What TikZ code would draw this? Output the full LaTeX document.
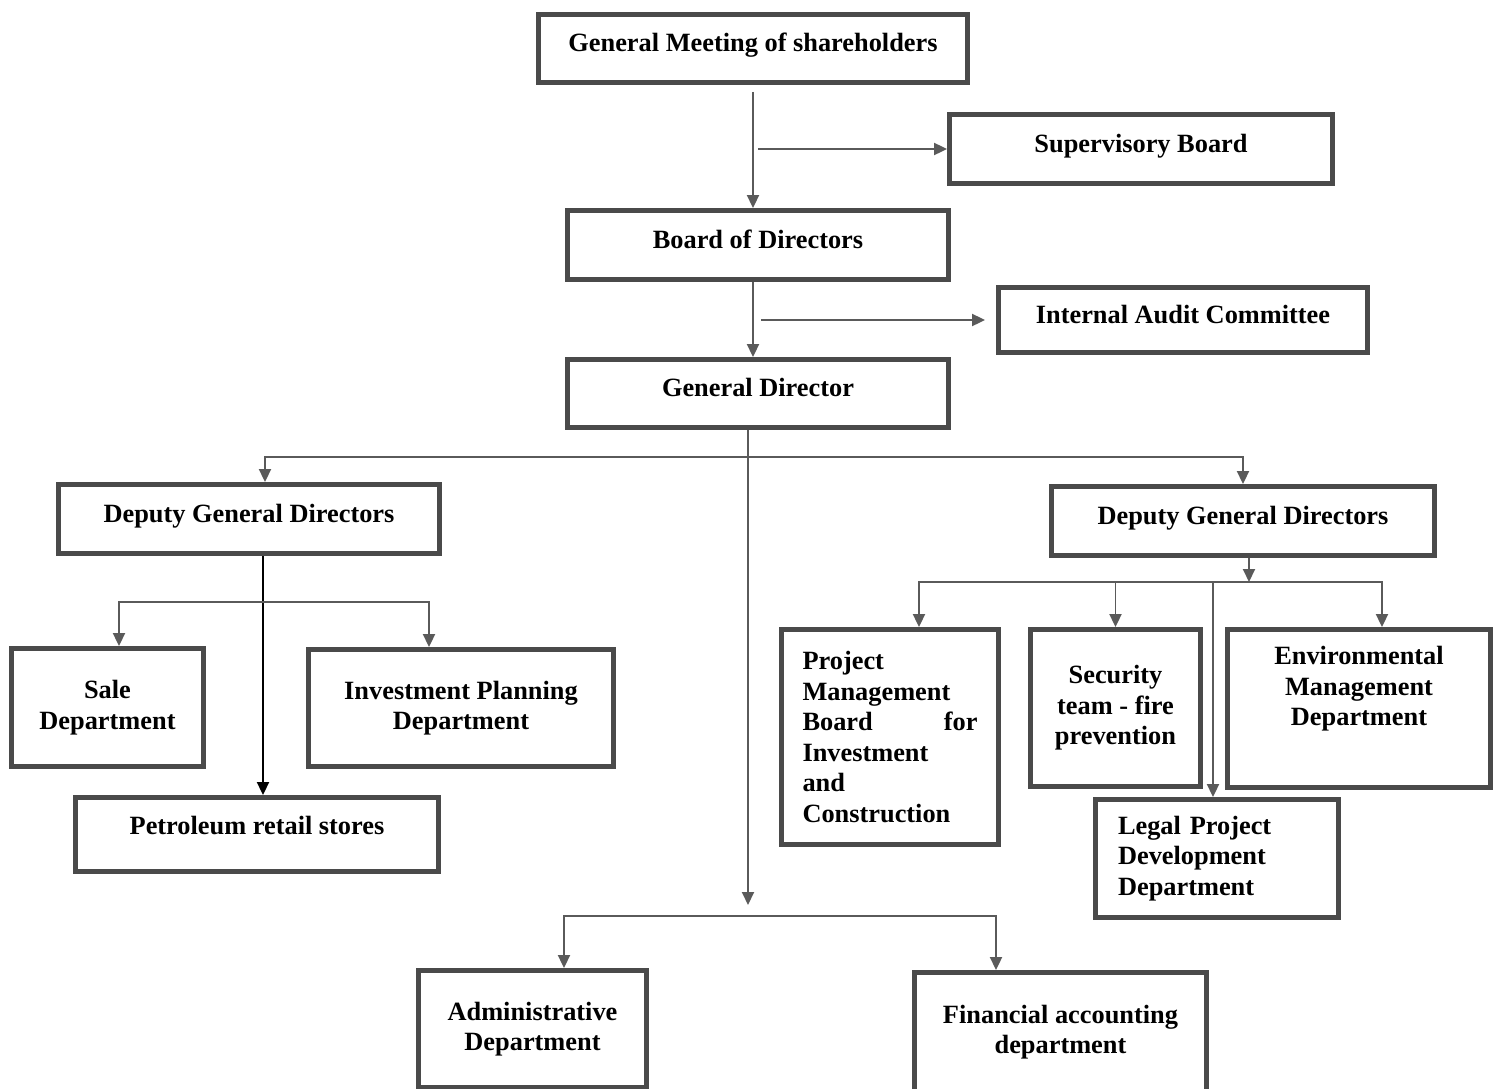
\documentclass[tikz,border=0pt]{standalone}
\usepackage{fontspec}
\setmainfont{Liberation Serif}
\usepackage{tikz}
\usetikzlibrary{arrows.meta}
\definecolor{boxgray}{HTML}{4A4A4A}
\definecolor{linegray}{HTML}{5A5A5A}
\tikzset{
	boxstyle/.style={rectangle,draw=boxgray,line width=2.8pt,fill=white,inner sep=2pt,font=\bfseries\fontsize{15}{17.4}\selectfont},
	onelinestyle/.style={boxstyle,text height=0.4cm,text depth=0.28cm},
	linestyle/.style={draw=linegray,line width=1.1pt},
	arrowstyle/.style={linestyle,-{Triangle[length=0.26cm,width=0.24cm]}}
}

\begin{document}
\begin{tikzpicture}[x=0.02cm,y=-0.02cm]
		\useasboundingbox (0,0) rectangle (1499,1089);
		\node[onelinestyle,minimum width=8.58cm,minimum height=1.36cm] (gm) at (753,48.5) {General Meeting of shareholders};
		\node[onelinestyle,minimum width=7.66cm,minimum height=1.38cm] (sb) at (1141,149) {Supervisory Board};
		\node[onelinestyle,minimum width=7.62cm,minimum height=1.38cm] (bod) at (758,245) {Board of Directors};
		\node[onelinestyle,minimum width=7.38cm,minimum height=1.30cm] (iac) at (1183,320) {Internal Audit Committee};
		\node[onelinestyle,minimum width=7.62cm,minimum height=1.36cm] (gd) at (758,393.5) {General Director};
		\node[onelinestyle,minimum width=7.62cm,minimum height=1.38cm] (dgdl) at (249,519) {Deputy General Directors};
		\node[onelinestyle,minimum width=7.66cm,minimum height=1.38cm] (dgdr) at (1243,521) {Deputy General Directors};
		\node[boxstyle,minimum width=3.84cm,minimum height=2.36cm,align=center] (sale) at (107.5,707.5) {Sale\\Department};
		\node[boxstyle,minimum width=6.10cm,minimum height=2.34cm,align=center] (ipd) at (461,708) {Investment Planning\\Department};
		\node[onelinestyle,text depth=0.4cm,minimum width=7.26cm,minimum height=1.48cm] (prs) at (257,834.5) {Petroleum retail stores};
		\node[boxstyle,minimum width=4.34cm,minimum height=4.30cm,text width=3.5cm,align=left] (pmb) at (890,737) {Project\\Management\\Board\hfill for\\Investment\\and\\Construction};
		\node[boxstyle,minimum width=3.40cm,minimum height=3.14cm,align=center] (sec) at (1115.5,708) {Security\\team - fire\\prevention};
		\node[boxstyle,minimum width=5.26cm,minimum height=3.16cm,align=center] (env) at (1359,708.5) {Environmental\\Management\\Department\rule[-0.9cm]{0pt}{0.9cm}};
		\node[boxstyle,minimum width=4.86cm,minimum height=2.36cm,text width=3.96cm,align=left] (legal) at (1217,858.5) {Legal Project\\Development\\Department};
		\node[boxstyle,minimum width=4.56cm,minimum height=2.34cm,align=center] (adm) at (532.5,1029) {Administrative\\Department};
		\node[boxstyle,minimum width=5.84cm,minimum height=2.38cm,align=center] (fin) at (1060.5,1032) {Financial accounting\\department};
		\coordinate (topbus) at (748,457);
		\coordinate (leftbus) at (263,602);
		\coordinate (rightbus) at (1249,582);
		\coordinate (lowbus) at (748,916);
		% top of the chart
		\draw[arrowstyle,shorten <=0.14cm] (gm.south) -- (gm.south |- bod.north);
		\draw[arrowstyle] ([xshift=0.1cm]gm.south |- sb.west) -- (sb.west);
		\draw[arrowstyle] (gm.south |- bod.south) -- (gm.south |- gd.north);
		\draw[arrowstyle,shorten >=0.22cm] ([xshift=0.16cm]gm.south |- iac.west) -- (iac.west);
		\draw[arrowstyle,shorten >=0.22cm] (gd.south -| lowbus) -- (lowbus);
		\draw[arrowstyle] (topbus) -| ([xshift=0.32cm]dgdl.north);
		\draw[arrowstyle] (topbus) -| (dgdr.north);
		% left side
		\draw[arrowstyle,draw=black] ([xshift=0.28cm]dgdl.south) -- ([xshift=0.28cm]dgdl.south |- prs.north);
		\draw[arrowstyle] (leftbus) -| ([xshift=0.23cm]sale.north);
		\draw[arrowstyle] (leftbus) -| ([xshift=-0.64cm]ipd.north);
		% right side
		\draw[arrowstyle] ([xshift=0.12cm]dgdr.south) -- (rightbus);
		\draw[arrowstyle] (rightbus) -| ([xshift=0.58cm]pmb.north);
		\draw[arrowstyle] (rightbus) -| (sec.north);
		\draw[arrowstyle] (rightbus) -| ([xshift=0.46cm]env.north);
		\draw[arrowstyle] ([xshift=-0.08cm]legal.north |- rightbus) -- ([xshift=-0.08cm]legal.north);
		% bottom
		\draw[arrowstyle] (lowbus) -| ([xshift=0.63cm]adm.north);
		\draw[arrowstyle] (lowbus) -| ([xshift=-1.29cm]fin.north);
\end{tikzpicture}
\end{document}
